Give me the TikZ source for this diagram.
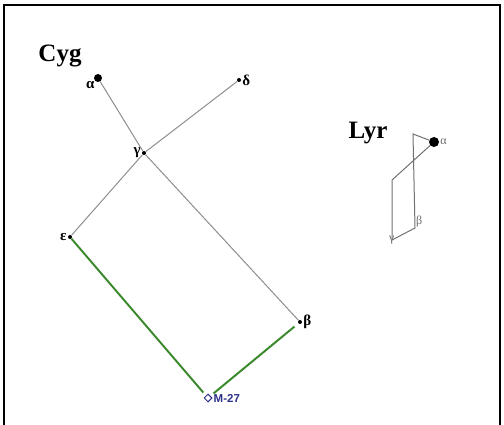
\documentclass[tikz,border=0pt]{standalone}
\usepackage{fontspec}
\setmainfont{Liberation Serif}
\setsansfont{Liberation Sans}
\usetikzlibrary{shapes.geometric}
\definecolor{linecol}{HTML}{8E8E8E}
\definecolor{lyrcol}{HTML}{707070}
\definecolor{guidecol}{HTML}{3B8A2C}
\definecolor{markcol}{HTML}{2B2F86}
\definecolor{lyrtext}{HTML}{6A6A6A}
\tikzset{
  bigdot/.style={circle, fill=black, minimum size=8pt, inner sep=0pt},
  cygdot/.style={circle, fill=black, minimum size=4pt, inner sep=0pt},
  grk/.style={font=\fontsize{15}{15}\selectfont\bfseries, inner sep=1pt},
  lyrgrk/.style={font=\fontsize{12}{12}\selectfont, text=lyrtext, inner sep=1pt},
  cname/.style={font=\fontsize{25}{25}\selectfont\bfseries},
  figline/.style={draw=linecol, line width=1pt},
  guide/.style={draw=guidecol, line width=2pt},
}

\begin{document}
\begin{tikzpicture}[x=1pt, y=-1pt]
  \useasboundingbox (0,0) rectangle (504,425);
  % frame
  \draw[line width=1.2pt] (4,425) -- (4,5) -- (500,5) -- (500,425);
  % Cygnus
  \node[cname] (cyg) at (60,56) {Cyg};
  \node[bigdot, label={[grk, label distance=-1pt]below left:α}] (cygA) at (98,78) {};
  \node[cygdot, label={[grk]right:δ}] (cygD) at (239,80) {};
  \node[cygdot, label={[grk]left:γ}] (cygG) at (144,153) {};
  \node[cygdot, label={[grk]left:ε}] (cygE) at (70,237) {};
  \node[cygdot, label={[grk]right:β}] (cygB) at (300,322) {};
  \node[diamond, draw=markcol, line width=1pt, minimum size=8pt, inner sep=0pt,
        label={[font=\sffamily\bfseries\fontsize{11.5}{11.5}\selectfont, text=markcol, inner sep=1pt]right:M-27}] (m27) at (208,398) {};
  \draw[figline] (cygA) -- (cygG) -- (cygB);
  \draw[figline] (cygD) -- (cygG) -- (cygE);
  % path to M 27
  \draw[guide, shorten >=4pt] (cygE) -- (m27);
  \draw[guide, shorten <=5pt, shorten >=4pt] (cygB) -- (m27);
  % Lyra
  \node[cname] (lyr) at (368,133) {Lyr};
  \node[bigdot, minimum size=10pt, label={[lyrgrk]right:α}] (lyrA) at (434,142) {};
  \coordinate (lyrE) at (413,134);
  \coordinate[label={[lyrgrk]above right:β}] (lyrB) at (415,228);
  \coordinate[label={[lyrgrk, label distance=-4pt]right:γ}] (lyrG) at (392,240);
  \coordinate (lyrD) at (392,180);
  \draw[figline, draw=lyrcol] (lyrA) -- (lyrE) -- (lyrB) -- (lyrG) -- (lyrD) -- (lyrA);
\end{tikzpicture}
\end{document}
